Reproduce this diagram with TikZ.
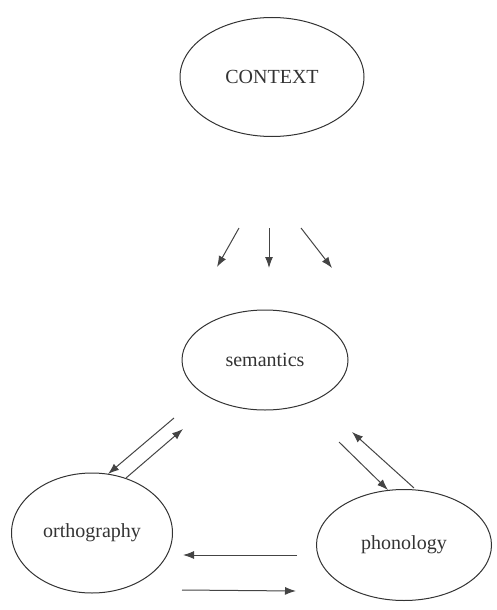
\documentclass[tikz,border=0pt]{standalone}
\usepackage{fontspec}
\setmainfont{Liberation Serif}
\usetikzlibrary{shapes.geometric,arrows.meta}
\definecolor{inkline}{HTML}{333333}
\definecolor{inkarrow}{HTML}{444444}
\tikzset{
  bubble/.style={ellipse, draw=inkline, line width=1pt, inner sep=0pt,
    font=\fontsize{20}{24}\selectfont, text=black!80},
  flow/.style={draw=inkarrow, line width=1pt,
    -{Latex[length=11pt,width=8pt]}}
}
\begin{document}
\begin{tikzpicture}[x=1pt,y=-1pt]
\useasboundingbox (0,0) rectangle (497,610);

% the four concepts
\node[bubble, minimum width=184pt, minimum height=119pt] (context) at (272,77) {CONTEXT};
\node[bubble, minimum width=166pt, minimum height=100pt] (sem) at (265,360) {semantics};
\node[bubble, minimum width=161pt, minimum height=120pt] (orth) at (92,533) {orthography};
\node[bubble, minimum width=175pt, minimum height=111pt] (phon) at (404,545) {phonology};

% context feeding semantics
\coordinate (c1s) at (239,228); \coordinate (c1e) at (217,267);
\coordinate (c2s) at (269,228); \coordinate (c2e) at (269,268);
\coordinate (c3s) at (301,228); \coordinate (c3e) at (332,268);
\draw[flow] (c1s) -- (c1e);
\draw[flow] (c2s) -- (c2e);
\draw[flow] (c3s) -- (c3e);

% semantics <-> orthography
\coordinate (so1) at (174,418); \coordinate (so2) at (108,474);
\coordinate (os1) at (126,478); \coordinate (os2) at (183,429);
\draw[flow] (so1) -- (so2);
\draw[flow] (os1) -- (os2);

% semantics <-> phonology
\coordinate (sp1) at (339,442); \coordinate (sp2) at (388,490);
\coordinate (ps1) at (414,488); \coordinate (ps2) at (352,432);
\draw[flow] (sp1) -- (sp2);
\draw[flow] (ps1) -- (ps2);

% orthography <-> phonology
\coordinate (po1) at (297,555); \coordinate (po2) at (183,555);
\coordinate (op1) at (182,590); \coordinate (op2) at (296,591);
\draw[flow] (po1) -- (po2);
\draw[flow] (op1) -- (op2);
\end{tikzpicture}
\end{document}
